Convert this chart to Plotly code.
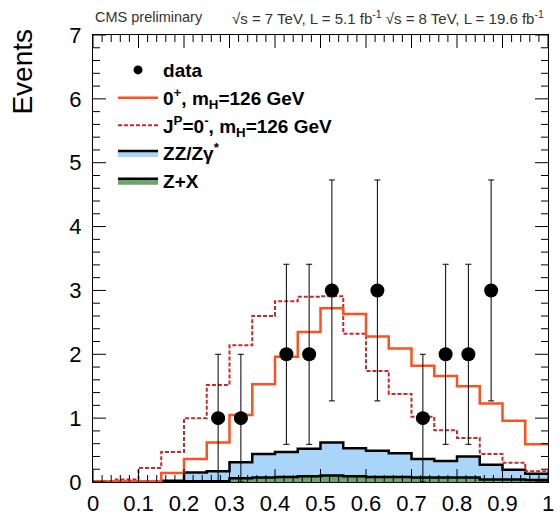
import plotly.graph_objects as go

# ---- data ----
bin_edges = [0.00, 0.05, 0.10, 0.15, 0.20, 0.25, 0.30, 0.35, 0.40, 0.45, 0.50,
             0.55, 0.60, 0.65, 0.70, 0.75, 0.80, 0.85, 0.90, 0.95, 1.00]
sig_0plus = [0.01, 0.01, 0.01, 0.14, 0.36, 0.62, 1.05, 1.53, 1.96, 2.35,
             2.72, 2.63, 2.28, 2.09, 1.82, 1.66, 1.50, 1.23, 0.96, 0.59]
sig_0minus = [0.00, 0.04, 0.22, 0.47, 1.00, 1.52, 2.14, 2.60, 2.83, 2.90,
              2.91, 2.32, 1.74, 1.38, 1.02, 0.81, 0.69, 0.44, 0.30, 0.17]
bkg_total = [0.00, 0.00, 0.01, 0.02, 0.15, 0.17, 0.31, 0.44, 0.47, 0.52,
             0.62, 0.53, 0.49, 0.45, 0.36, 0.33, 0.40, 0.27, 0.19, 0.13]
zx = [0.00, 0.00, 0.00, 0.01, 0.01, 0.01, 0.06, 0.07, 0.08, 0.09,
      0.10, 0.09, 0.08, 0.08, 0.07, 0.07, 0.07, 0.04, 0.04, 0.03]
data_x = [0.275, 0.325, 0.425, 0.475, 0.525, 0.625, 0.725, 0.775, 0.825, 0.875]
data_y = [1, 1, 2, 2, 3, 3, 1, 2, 2, 3]
data_err = [1.0, 1.0, 1.41, 1.41, 1.73, 1.73, 1.0, 1.41, 1.41, 1.73]

x_major = [0, 0.1, 0.2, 0.3, 0.4, 0.5, 0.6, 0.7, 0.8, 0.9, 1.0]
x_labels = ["0", "0.1", "0.2", "0.3", "0.4", "0.5", "0.6", "0.7", "0.8", "0.9", "1"]
y_major = [0, 1, 2, 3, 4, 5, 6, 7]
y_labels = ["0", "1", "2", "3", "4", "5", "6", "7"]
X_MINOR_STEP = 0.02
Y_MINOR_STEP = 0.2

FONT = "Liberation Sans, Arial, sans-serif"


def step(vals):
    return list(vals) + [vals[-1]]


fig = go.Figure()

fig.add_trace(go.Scatter(
    x=bin_edges, y=step(bkg_total), mode="lines", line_shape="hv",
    fill="tozeroy", fillcolor="#A9D5F8", line=dict(color="black", width=2.5),
    name="ZZ/Zγ<sup>*</sup>", legendrank=4))
fig.add_trace(go.Scatter(
    x=bin_edges, y=step(zx), mode="lines", line_shape="hv",
    fill="tozeroy", fillcolor="#6CA56C", line=dict(color="black", width=2.5),
    name="Z+X", legendrank=5))
fig.add_trace(go.Scatter(
    x=bin_edges, y=step(sig_0minus), mode="lines", line_shape="hv",
    line=dict(color="#C8282A", width=2, dash="4px,2px"),
    name="J<sup>P</sup>=0<sup>-</sup>, m<sub>H</sub>=126 GeV", legendrank=3))
fig.add_trace(go.Scatter(
    x=bin_edges, y=step(sig_0plus), mode="lines", line_shape="hv",
    line=dict(color="#FF5020", width=2.5),
    name="0<sup>+</sup>, m<sub>H</sub>=126 GeV", legendrank=2))
fig.add_trace(go.Scatter(
    x=data_x, y=data_y, mode="markers",
    marker=dict(color="black", size=14),
    error_y=dict(type="data", array=data_err, color="black", thickness=1, width=3),
    showlegend=False))
fig.add_trace(go.Scatter(
    x=[None], y=[None], mode="markers", marker=dict(color="black", size=9),
    name="data", legendrank=1))

fig.update_layout(
    width=560, height=515, autosize=False,
    margin=dict(l=93, r=12, t=35, b=33, pad=0, autoexpand=False),
    paper_bgcolor="white", plot_bgcolor="white",
    showlegend=True,
    xaxis=dict(
        range=[0, 1], tickmode="array", tickvals=x_major, ticktext=x_labels,
        showgrid=False, zeroline=False, automargin=False,
        showline=True, linecolor="black", linewidth=1, mirror=True,
        ticks="", ticklabelstandoff=2,
        tickfont=dict(family=FONT, size=22, color="black"),
    ),
    yaxis=dict(
        range=[0, 7], tickmode="array", tickvals=y_major, ticktext=y_labels,
        showgrid=False, zeroline=False, automargin=False,
        showline=True, linecolor="black", linewidth=1, mirror=True,
        ticks="", ticklabelstandoff=6,
        tickfont=dict(family=FONT, size=22, color="black"),
    ),
    legend=dict(x=0.044, y=0.964, xanchor="left", yanchor="top",
                bgcolor="rgba(0,0,0,0)",
                font=dict(family=FONT, size=19, color="black", weight="bold"),
                tracegroupgap=0, itemwidth=40),
)


# ---- ROOT-style inside ticks on all four sides ----
def frange(start, stop, stepv):
    n = int(round((stop - start) / stepv))
    return [round(start + i * stepv, 6) for i in range(n + 1)]


x_minor = [v for v in frange(0, 1, X_MINOR_STEP) if all(abs(v - m) > 1e-6 for m in x_major)]
y_minor = [v for v in frange(0, 7, Y_MINOR_STEP) if all(abs(v - m) > 1e-6 for m in y_major)]

tick_line = dict(color="black", width=1)
for vals, length in ((x_major, 13), (x_minor, 7)):
    for anchor, sign in ((0, 1), (1, -1)):
        path = "".join(f"M{v},0L{v},{sign * length}" for v in vals)
        fig.add_shape(type="path", xref="x", yref="paper", ysizemode="pixel",
                      yanchor=anchor, path=path, line=tick_line, layer="above")
for vals, length in ((y_major, 13), (y_minor, 7)):
    for anchor, sign in ((0, 1), (1, -1)):
        path = "".join(f"M0,{v}L{sign * length},{v}" for v in vals)
        fig.add_shape(type="path", xref="paper", yref="y", xsizemode="pixel",
                      xanchor=anchor, path=path, line=tick_line, layer="above")

fig.add_annotation(text="Events", textangle=-90, xref="paper", yref="paper",
                   x=-0.157, y=1.0, yshift=8, xanchor="center", yanchor="top",
                   showarrow=False, font=dict(family=FONT, size=28, color="black"))
fig.add_annotation(text="CMS preliminary", xref="paper", yref="paper",
                   x=0.0, y=1.0, yshift=18, xanchor="left", yanchor="middle",
                   showarrow=False, font=dict(family=FONT, size=14.5, color="#333333"))
fig.add_annotation(text="√s = 7 TeV, L = 5.1 fb<sup>-1</sup> √s = 8 TeV, L = 19.6 fb<sup>-1</sup>",
                   xref="paper", yref="paper",
                   x=0.995, y=1.0, yshift=18, xanchor="right", yanchor="middle",
                   showarrow=False, font=dict(family=FONT, size=15, color="#333333"))

fig.write_html("out.html",
               config={"displayModeBar": False},
               post_script="document.body.style.margin='0px';document.body.style.padding='0px';")
